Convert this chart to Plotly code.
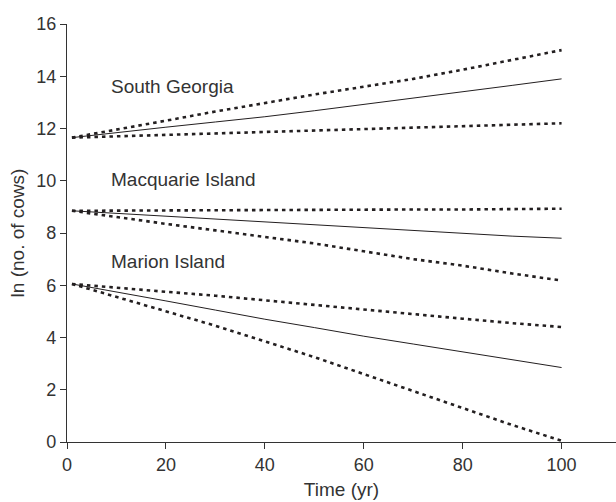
import plotly.graph_objects as go

t = [1, 10, 20, 30, 40, 50, 60, 70, 80, 90, 100]

sg_mean  = [11.65, 11.85, 12.05, 12.25, 12.45, 12.68, 12.92, 13.15, 13.40, 13.65, 13.90]
sg_upper = [11.65, 11.95, 12.30, 12.65, 12.98, 13.30, 13.60, 13.90, 14.25, 14.62, 15.00]
sg_lower = [11.65, 11.70, 11.75, 11.82, 11.88, 11.93, 11.98, 12.03, 12.08, 12.14, 12.20]

mq_mean  = [8.85, 8.75, 8.65, 8.55, 8.42, 8.30, 8.20, 8.10, 7.98, 7.88, 7.80]
mq_upper = [8.85, 8.86, 8.87, 8.87, 8.88, 8.88, 8.89, 8.90, 8.90, 8.92, 8.93]
mq_lower = [8.85, 8.60, 8.35, 8.10, 7.85, 7.60, 7.30, 7.00, 6.75, 6.45, 6.18]

mr_mean  = [6.05, 5.75, 5.40, 5.05, 4.70, 4.38, 4.05, 3.75, 3.45, 3.15, 2.85]
mr_upper = [6.05, 5.90, 5.75, 5.60, 5.42, 5.25, 5.08, 4.90, 4.72, 4.55, 4.40]
mr_lower = [6.05, 5.55, 5.00, 4.45, 3.85, 3.25, 2.60, 1.95, 1.30, 0.65, 0.05]

labels = ["South Georgia", "Macquarie Island", "Marion Island"]
label_y = [13.6, 10.05, 6.9]

x_ticks = [0, 20, 40, 60, 80, 100]
y_ticks = [0, 2, 4, 6, 8, 10, 12, 14, 16]

INK = "#231f20"
TXT = "#333333"
FONT = "Liberation Sans, Arial, sans-serif"

fig = go.Figure()
groups = [(sg_mean, sg_upper, sg_lower), (mq_mean, mq_upper, mq_lower), (mr_mean, mr_upper, mr_lower)]
for mean, up, lo in groups:
    for ser in (up, lo):
        fig.add_trace(go.Scatter(x=t, y=ser, mode="lines",
                                 line=dict(color=INK, width=2.6, dash="3.5px,4px"),
                                 showlegend=False, hoverinfo="skip"))
    fig.add_trace(go.Scatter(x=t, y=mean, mode="lines",
                             line=dict(color=INK, width=1.0),
                             showlegend=False, hoverinfo="skip"))

for lab, ly in zip(labels, label_y):
    fig.add_annotation(x=8.4, y=ly, xref="x", yref="y", text=lab, showarrow=False,
                       xanchor="left", yanchor="middle",
                       font=dict(family=FONT, size=19, color=TXT))

axis_common = dict(showgrid=False, zeroline=False, showline=True, linecolor=TXT, linewidth=1.2,
                   ticks="outside", ticklen=6, tickwidth=1.2, tickcolor=TXT,
                   tickfont=dict(family=FONT, size=18, color=TXT))

fig.update_xaxes(range=[0, 111], tickvals=x_ticks, ticktext=[str(v) for v in x_ticks],
                 title=dict(text="Time (yr)", font=dict(family=FONT, size=19, color=TXT), standoff=8),
                 **axis_common)
fig.update_yaxes(range=[0, 16], tickvals=y_ticks, ticktext=[str(v) for v in y_ticks],
                 title=dict(text="ln (no. of cows)", font=dict(family=FONT, size=19, color=TXT), standoff=6),
                 **axis_common)

fig.update_layout(width=616, height=502, margin=dict(l=67, r=0, t=24, b=60),
                  plot_bgcolor="white", paper_bgcolor="white")

fig.write_html("out.html")
